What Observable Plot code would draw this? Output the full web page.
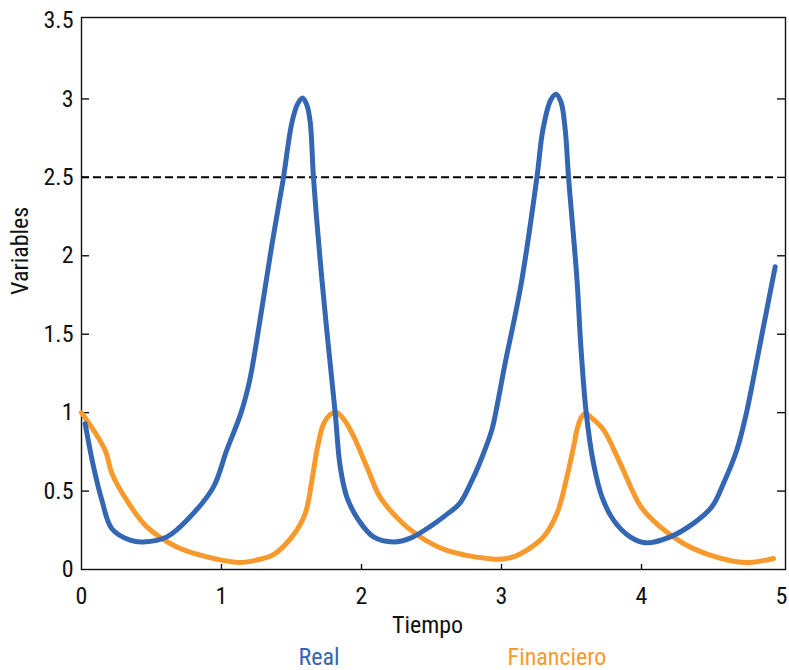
<!DOCTYPE html>
<html>
<head>
<meta charset="utf-8">
<script src="https://cdn.jsdelivr.net/npm/d3@7"></script>
<script src="https://cdn.jsdelivr.net/npm/@observablehq/plot@0.6"></script>
<style>
  html, body { margin: 0; padding: 0; background: #fff; overflow: hidden; }
  body { width: 789px; height: 670px; position: relative;
         font-family: "Liberation Sans Narrow", "Roboto Condensed", "DejaVu Sans Condensed", sans-serif; }
  .leg { position: absolute; top: 645px; font-size: 24px; line-height: 24px; transform: translateX(-50%); white-space: nowrap; }
</style>
</head>
<body>
<div id="chart"></div>
<script>
// ---- data ----
const seriesNames = ["Real", "Financiero"];
const seriesColors = ["#3367b4", "#f7992b"];

const realT = [0.026, 0.086, 0.146, 0.217, 0.348, 0.443, 0.61, 0.776, 0.943, 1.038, 1.14, 1.2, 1.25, 1.3, 1.36, 1.41, 1.443, 1.503, 1.545, 1.579, 1.61, 1.634, 1.657, 1.717, 1.764, 1.812, 1.848, 1.896, 1.979, 2.086, 2.229, 2.35, 2.5, 2.6, 2.7, 2.78, 2.848, 2.931, 2.967, 3.026, 3.086, 3.146, 3.253, 3.296, 3.35, 3.389, 3.425, 3.455, 3.479, 3.539, 3.567, 3.605, 3.657, 3.717, 3.8, 3.919, 4.03, 4.205, 4.371, 4.503, 4.586, 4.681, 4.75, 4.8, 4.85, 4.9, 4.955];
const realV = [0.93, 0.655, 0.44, 0.26, 0.187, 0.176, 0.208, 0.336, 0.527, 0.762, 1.0, 1.2, 1.45, 1.73, 2.07, 2.33, 2.5, 2.85, 2.97, 3.006, 2.96, 2.85, 2.5, 1.85, 1.42, 1.0, 0.655, 0.46, 0.315, 0.208, 0.176, 0.2, 0.28, 0.345, 0.42, 0.55, 0.687, 0.89, 1.038, 1.315, 1.571, 1.85, 2.5, 2.805, 2.99, 3.03, 2.98, 2.805, 2.5, 1.85, 1.42, 1.0, 0.677, 0.464, 0.315, 0.208, 0.17, 0.208, 0.294, 0.4, 0.55, 0.762, 1.0, 1.22, 1.45, 1.68, 1.93];

const finT = [0.0, 0.169, 0.217, 0.324, 0.467, 0.681, 0.896, 1.0, 1.13, 1.25, 1.371, 1.503, 1.598, 1.646, 1.686, 1.73, 1.78, 1.824, 1.88, 1.943, 2.038, 2.134, 2.3, 2.4, 2.5, 2.6, 2.75, 2.9, 2.99, 3.1, 3.181, 3.3, 3.396, 3.462, 3.519, 3.539, 3.57, 3.598, 3.64, 3.729, 3.848, 3.996, 4.134, 4.3, 4.49, 4.657, 4.776, 4.943];
const finV = [1.0, 0.76, 0.613, 0.44, 0.272, 0.144, 0.08, 0.06, 0.045, 0.06, 0.095, 0.208, 0.357, 0.57, 0.78, 0.93, 0.99, 1.0, 0.95, 0.85, 0.655, 0.46, 0.29, 0.22, 0.165, 0.125, 0.09, 0.07, 0.065, 0.085, 0.123, 0.208, 0.357, 0.57, 0.80, 0.89, 0.97, 0.995, 0.97, 0.89, 0.677, 0.40, 0.272, 0.166, 0.091, 0.053, 0.045, 0.07];

const thresholdValue = [2.5];
const xTicks = [0, 1, 2, 3, 4, 5];
const xTickLabels = ["0", "1", "2", "3", "4", "5"];
const yTicks = [0, 0.5, 1, 1.5, 2, 2.5, 3, 3.5];
const yTickLabels = ["0", "0.5", "1", "1.5", "2", "2.5", "3", "3.5"];
const xLabel = "Tiempo";
const yLabel = "Variables";

// ---- build ----
const real = realT.map((t, i) => ({t, v: realV[i]}));
const fin = finT.map((t, i) => ({t, v: finV[i]}));

const W = 789, H = 645;
const mL = 81, mR = 8, mT = 20, mB = 76;
const pw = W - mL - mR, ph = H - mT - mB;
const font = '"Liberation Sans Narrow", "Roboto Condensed", "DejaVu Sans Condensed", sans-serif';

const innerY = yTicks.filter(d => d > 0 && d < 3.5);
const innerX = xTicks.filter(d => d > 0 && d < 5);

const chart = Plot.plot({
  width: W, height: H,
  marginLeft: mL, marginRight: mR, marginTop: mT, marginBottom: mB,
  style: {fontFamily: font, fontSize: "24px", color: "#111", background: "#fff"},
  x: {domain: [0, 5]},
  y: {domain: [0, 3.5]},
  marks: [
    Plot.axisX({ticks: xTicks, tickSize: 0, tickPadding: 17, tickFormat: d => xTickLabels[xTicks.indexOf(d)], label: null, fontSize: 24}),
    Plot.axisY({ticks: yTicks, tickSize: 0, tickPadding: 8, tickFormat: d => yTickLabels[yTicks.indexOf(d)], label: null, fontSize: 24}),
    // inward ticks
    Plot.tickY(innerY, {y: d => d, stroke: "#111", strokeWidth: 1.4, insetRight: pw - 8}),
    Plot.tickY(innerY, {y: d => d, stroke: "#111", strokeWidth: 1.4, insetLeft: pw - 4, insetRight: -4}),
    Plot.tickX(innerX, {x: d => d, stroke: "#111", strokeWidth: 1.4, insetTop: ph - 5}),
    Plot.frame({stroke: "#111", strokeWidth: 1.4, insetTop: -3, insetRight: -4}),
    Plot.ruleY(thresholdValue, {stroke: "#000", strokeWidth: 2, strokeDasharray: "8,4", insetRight: 4}),
    Plot.line(fin, {x: "t", y: "v", stroke: seriesColors[1], strokeWidth: 5, curve: "catmull-rom"}),
    Plot.line(real, {x: "t", y: "v", stroke: seriesColors[0], strokeWidth: 5, curve: "catmull-rom"}),
    Plot.text([xLabel], {text: d => d, frameAnchor: "bottom", dy: 46, dx: -4, lineAnchor: "top", fontSize: 24, fill: "#111"}),
    Plot.text([yLabel], {text: d => d, frameAnchor: "left", rotate: -90, dx: -61, lineAnchor: "middle", fontSize: 24, fill: "#111"})
  ]
});
document.getElementById("chart").appendChild(chart);

// legend below the svg
const legendX = [319, 557];
seriesNames.forEach((name, i) => {
  const s = document.createElement("span");
  s.className = "leg";
  s.style.left = legendX[i] + "px";
  s.style.color = seriesColors[i];
  s.textContent = name;
  document.body.appendChild(s);
});
</script>
</body>
</html>
